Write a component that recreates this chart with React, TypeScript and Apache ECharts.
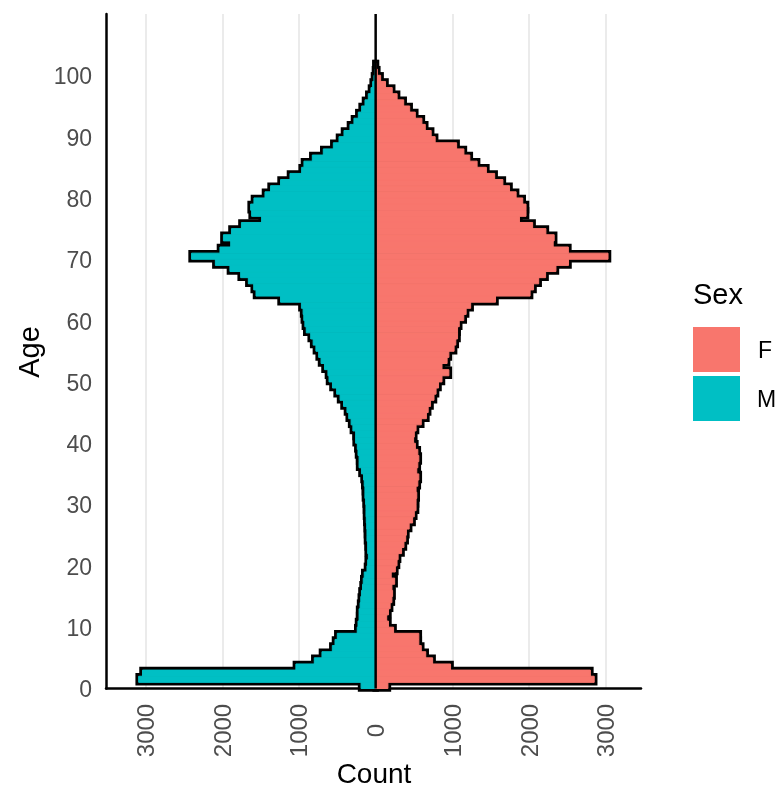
import React, { useEffect, useRef } from "react";
import * as echarts from "echarts";

const FONT = "'Liberation Sans', Arial, Helvetica, sans-serif";

// Age categories (y axis), one band per year of age
const AGES: string[] = Array.from({ length: 110 }, (_, i) => String(i));
const AGE_TICKS = [0, 10, 20, 30, 40, 50, 60, 70, 80, 90, 100];
const COUNT_TICKS = [-3000, -2000, -1000, 0, 1000, 2000, 3000];

// Counts by age 0..101, female (positive side)
const FEMALE = [
  160, 2850, 2800, 977, 743, 653, 595, 563, 563, 234,
  167, 144, 167, 189, 212, 221, 212, 248, 203, 257,
  279, 293, 338, 369, 392, 401, 437, 482, 504, 527,
  527, 536, 527, 550, 563, 536, 550, 563, 550, 518,
  495, 504, 527, 595, 662, 685, 716, 761, 788, 820,
  865, 955, 865, 932, 955, 1023, 1045, 1068, 1068, 1090,
  1149, 1180, 1239, 1563, 2014, 2059, 2126, 2216, 2351, 2515,
  3030, 2513, 2315, 2328, 2220, 2047, 1875, 1961, 1961, 1918,
  1832, 1746, 1659, 1552, 1444, 1323, 1228, 1151, 1056, 776,
  724, 647, 603, 517, 444, 366, 280, 216, 129, 65,
  22, 5,
];

// Counts by age 0..101, male (drawn on the negative side)
const MALE = [
  -190, -3090, -3040, -1040, -800, -700, -565, -530, -500, -240,
  -230, -216, -216, -203, -194, -185, -171, -162, -149, -113,
  -104, -95, -104, -104, -113, -113, -117, -122, -126, -126,
  -131, -140, -140, -149, -158, -185, -216, -216, -230, -239,
  -261, -261, -297, -320, -351, -374, -419, -464, -509, -563,
  -608, -622, -667, -712, -743, -779, -815, -847, -905, -923,
  -937, -946, -968, -1240, -1560, -1590, -1660, -1760, -1900, -2090,
  -2400, -2030, -1890, -1985, -1880, -1750, -1487, -1617, -1630, -1587,
  -1443, -1370, -1240, -1117, -965, -935, -826, -683, -552, -478,
  -413, -335, -283, -226, -183, -139, -96, -61, -39, -22,
  -9, -3,
];

const F_COLOR = "#F8766D";
const M_COLOR = "#00BFC4";

// one horizontal bar per age, drawn through the axes' own scales
const makeBarRenderer = (fill: string, stroke: string, lineWidth: number) =>
  (params: any, api: any) => {
    const v = api.value(0);
    const idx = api.value(1);
    const a = api.coord([0, idx]);
    const b = api.coord([v, idx]);
    const h = api.size([0, 1])[1];
    return {
      type: "rect",
      shape: {
        x: Math.min(a[0], b[0]),
        y: a[1] - h / 2,
        width: Math.abs(b[0] - a[0]),
        height: h,
      },
      style: { fill, stroke, lineWidth },
    };
  };

export default function App() {
  const ref = useRef<HTMLDivElement>(null);

  useEffect(() => {
    if (!ref.current) return;
    const chart = echarts.init(ref.current, undefined, { renderer: "svg" });

    const maleData = MALE.map((v, i) => [v, i]);
    const femaleData = FEMALE.map((v, i) => [v, i]);

    const option: any = {
      animation: false,
      textStyle: { fontFamily: FONT },
      grid: { left: 106, right: 138, top: 14, bottom: 100.5, containLabel: false },
      xAxis: {
        type: "value",
        min: -3516,
        max: 3460,
        axisLine: { show: true, onZero: false, lineStyle: { color: "#000", width: 2.5 } },
        axisTick: { show: false },
        splitLine: {
          show: true,
          showMinLine: false,
          showMaxLine: false,
          lineStyle: { color: "#EBEBEB", width: 2 },
        },
        axisLabel: {
          rotate: 90,
          align: "center",
          verticalAlign: "middle",
          margin: 42,
          fontSize: 24,
          color: "#4D4D4D",
          fontFamily: FONT,
          showMinLabel: false,
          showMaxLabel: false,
          formatter: (v: number) => (COUNT_TICKS.includes(v) ? String(Math.abs(v)) : ""),
        },
      },
      yAxis: {
        type: "category",
        data: AGES,
        boundaryGap: true,
        axisLine: { show: true, onZero: false, lineStyle: { color: "#000", width: 2.5 } },
        axisTick: { show: false },
        splitLine: { show: false },
        axisLabel: {
          interval: (i: number) => AGE_TICKS.includes(i),
          margin: 14,
          fontSize: 23,
          color: "#4D4D4D",
          fontFamily: FONT,
          verticalAlign: "top",
          lineHeight: 8,
        },
      },
      graphic: [
        {
          type: "text",
          x: 29,
          y: 352,
          rotation: Math.PI / 2,
          style: { text: "Age", font: `29px ${FONT}`, fill: "#000", align: "center", verticalAlign: "middle" },
        },
        {
          type: "text",
          x: 374,
          y: 773,
          style: { text: "Count", font: `28px ${FONT}`, fill: "#000", align: "center", verticalAlign: "middle" },
        },
        {
          type: "text",
          x: 693,
          y: 294,
          style: { text: "Sex", font: `29px ${FONT}`, fill: "#000", align: "left", verticalAlign: "middle" },
        },
        { type: "rect", shape: { x: 693, y: 327, width: 47, height: 45 }, style: { fill: F_COLOR } },
        { type: "rect", shape: { x: 693, y: 376, width: 47, height: 45 }, style: { fill: M_COLOR } },
        {
          type: "text",
          x: 758,
          y: 350,
          style: { text: "F", font: `23px ${FONT}`, fill: "#000", align: "left", verticalAlign: "middle" },
        },
        {
          type: "text",
          x: 757,
          y: 399,
          style: { text: "M", font: `23px ${FONT}`, fill: "#000", align: "left", verticalAlign: "middle" },
        },
      ],
      series: [
        {
          type: "custom",
          name: "M outline",
          silent: true,
          clip: false,
          encode: { x: 0, y: 1 },
          data: maleData,
          renderItem: makeBarRenderer("#000", "#000", 6.5),
        },
        {
          type: "custom",
          name: "F outline",
          silent: true,
          clip: false,
          encode: { x: 0, y: 1 },
          data: femaleData,
          renderItem: makeBarRenderer("#000", "#000", 6.5),
        },
        {
          type: "custom",
          name: "M",
          silent: true,
          clip: false,
          encode: { x: 0, y: 1 },
          data: maleData,
          renderItem: makeBarRenderer(M_COLOR, M_COLOR, 1),
        },
        {
          type: "custom",
          name: "F",
          silent: true,
          clip: false,
          encode: { x: 0, y: 1 },
          data: femaleData,
          renderItem: makeBarRenderer(F_COLOR, F_COLOR, 1),
        },
        {
          type: "custom",
          name: "zero line",
          silent: true,
          clip: false,
          encode: { x: 0, y: 1 },
          data: [[0, 0]],
          renderItem: (params: any, api: any) => {
            const cs = params.coordSys;
            const x = api.coord([0, 0])[0];
            return {
              type: "line",
              shape: { x1: x, y1: cs.y, x2: x, y2: cs.y + cs.height },
              style: { stroke: "#000", lineWidth: 2.5 },
            };
          },
        },
      ],
    };

    chart.setOption(option);
    return () => chart.dispose();
  }, []);

  return (
    <div
      ref={ref}
      style={{ position: "fixed", left: 0, top: 0, width: 779, height: 789 }}
    />
  );
}
